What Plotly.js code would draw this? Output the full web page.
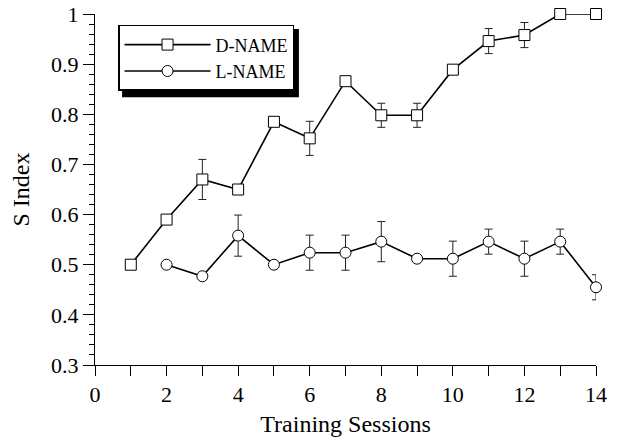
<!DOCTYPE html>
<html>
<head>
<meta charset="utf-8">
<script src="https://cdn.plot.ly/plotly-3.0.1.min.js"></script>
<style>
  html, body { margin: 0; padding: 0; background: #fff; }
  #chart { width: 621px; height: 441px; }
</style>
</head>
<body>
<div id="chart"></div>
<script>
const sessionsD = [1, 2, 3, 4, 5, 6, 7, 8, 9, 10, 11, 12, 13, 14];
const dName = [0.50, 0.59, 0.67, 0.65, 0.785, 0.752, 0.866, 0.798, 0.798, 0.889, 0.946, 0.958, 1.0, 1.0];
const dErr = [0, 0, 0.04, 0, 0, 0.034, 0, 0.024, 0.024, 0, 0.025, 0.025, 0, 0];

const sessionsL = [2, 3, 4, 5, 6, 7, 8, 9, 10, 11, 12, 13, 14];
const lName = [0.50, 0.477, 0.558, 0.50, 0.524, 0.524, 0.546, 0.512, 0.512, 0.546, 0.512, 0.546, 0.455];
const lErr = [0, 0, 0.041, 0, 0.035, 0.035, 0.040, 0, 0.035, 0.025, 0.035, 0.025, 0.025];

const seriesNames = ['D-NAME', 'L-NAME'];
const xTitle = 'Training Sessions';
const yTitle = 'S Index';

const font = '"Liberation Serif", "Times New Roman", Times, serif';

const traces = [
  {
    x: sessionsD, y: dName, name: seriesNames[0], type: 'scatter', mode: 'lines+markers',
    line: { color: '#000', width: 1.6 },
    marker: { symbol: 'square', size: 11, color: '#fff', line: { color: '#000', width: 1 } },
    error_y: { type: 'data', array: dErr, visible: true, color: '#222', thickness: 1, width: 4 },
    cliponaxis: false
  },
  {
    x: sessionsL, y: lName, name: seriesNames[1], type: 'scatter', mode: 'lines+markers',
    line: { color: '#000', width: 1.6 },
    marker: { symbol: 'circle', size: 11, color: '#fff', line: { color: '#000', width: 1 } },
    error_y: { type: 'data', array: lErr, visible: true, color: '#222', thickness: 1, width: 4 },
    cliponaxis: false
  }
];

const layout = {
  width: 621, height: 441,
  margin: { l: 95, r: 25, t: 14, b: 76 },
  paper_bgcolor: '#fff', plot_bgcolor: '#fff',
  font: { family: font, color: '#000', size: 22 },
  showlegend: true,
  legend: {
    x: 0.046, y: 0.969, xanchor: 'left', yanchor: 'top',
    bgcolor: '#fff', bordercolor: '#000', borderwidth: 1.5,
    font: { family: font, size: 18, color: '#000' },
    itemwidth: 86
  },
  xaxis: {
    range: [0, 14], showgrid: false, zeroline: false,
    showline: true, linecolor: '#000', linewidth: 1,
    ticks: 'outside', ticklen: 10, tickwidth: 1, tickcolor: '#000',
    dtick: 2, tick0: 0,
    minor: { dtick: 1, ticks: 'outside', ticklen: 10, tickcolor: '#000', tickwidth: 1 },
    tickfont: { family: font, size: 22, color: '#000' },
    title: { text: xTitle, font: { family: font, size: 24, color: '#000' }, standoff: 8 }
  },
  yaxis: {
    range: [0.3, 1.0], showgrid: false, zeroline: false,
    showline: true, linecolor: '#000', linewidth: 1,
    ticks: 'outside', ticklen: 11, tickwidth: 1, tickcolor: '#000',
    dtick: 0.1, tick0: 0.3,
    minor: { dtick: 0.02, ticks: 'outside', ticklen: 5, tickcolor: '#000', tickwidth: 1 },
    tickfont: { family: font, size: 22, color: '#000' },
    title: { text: yTitle, font: { family: font, size: 24, color: '#000' }, standoff: 14 }
  },
  shapes: [
    // drop shadow behind the legend box
    { type: 'rect', xref: 'paper', yref: 'paper', layer: 'above',
      x0: 0.054, x1: 0.407, y0: 0.763, y1: 0.957,
      fillcolor: '#000', line: { width: 0 } }
  ]
};

Plotly.newPlot('chart', traces, layout, { displayModeBar: false, staticPlot: true });
</script>
</body>
</html>
